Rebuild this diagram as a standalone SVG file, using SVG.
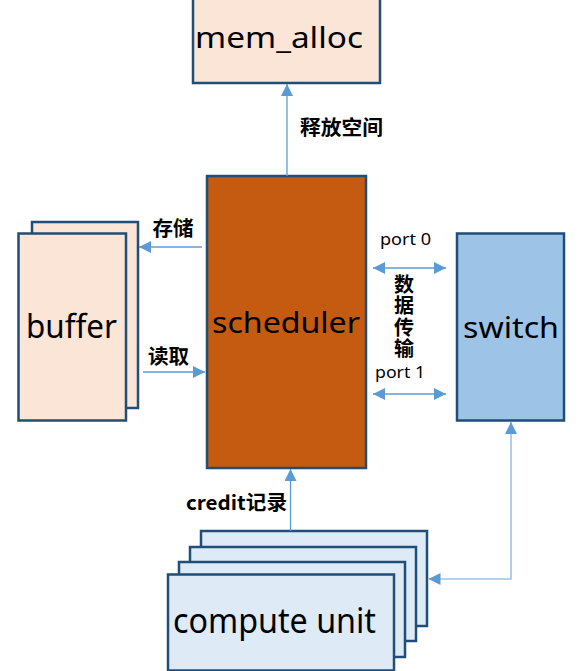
<svg xmlns="http://www.w3.org/2000/svg" width="585" height="671" viewBox="0 0 585 671">
<style>
.box{stroke:#1F4E79;stroke-width:2.5}
.peach{fill:#FBE5D6}
.light{fill:#DEEBF7}
.big{font-family:"Noto Sans","Open Sans",sans-serif;fill:#000}
.lbl{font-family:"Noto Sans CJK SC","Noto Sans",sans-serif;font-weight:bold;font-size:20px;fill:#000}
.port{font-family:"Noto Sans","Open Sans",sans-serif;font-size:17px;fill:#000}
.conn{stroke:#5B9BD5;stroke-width:1.3;fill:none}
</style>
<defs>
<marker id="ah" markerUnits="userSpaceOnUse" markerWidth="12" markerHeight="12" viewBox="0 0 12 12" refX="12" refY="6" orient="auto-start-reverse">
<path d="M0,0 L12,6 L0,12 z" fill="#5B9BD5"/>
</marker>
</defs>
<g id="mem_alloc">
<rect class="box peach" x="193" y="-2" width="187" height="85"/>
<text class="big" x="195" y="48" font-size="29" textLength="168" lengthAdjust="spacingAndGlyphs">mem_alloc</text>
</g>
<g id="buffer">
<rect class="box peach" x="32" y="222" width="106" height="186"/>
<rect class="box peach" x="18.5" y="233.5" width="107.5" height="187"/>
<text class="big" x="26" y="338" font-size="33" textLength="91" lengthAdjust="spacingAndGlyphs">buffer</text>
</g>
<g id="scheduler">
<rect class="box" fill="#C55A11" x="207" y="176" width="159" height="292"/>
<text class="big" x="212" y="333" font-size="29" textLength="148" lengthAdjust="spacingAndGlyphs">scheduler</text>
</g>
<g id="switch">
<rect class="box" fill="#9DC3E6" x="457" y="233.5" width="107" height="187"/>
<text class="big" x="463" y="338" font-size="29" textLength="96" lengthAdjust="spacingAndGlyphs">switch</text>
</g>
<g id="compute_unit">
<rect class="box light" x="201" y="531" width="226" height="95"/>
<rect class="box light" x="190" y="547" width="226" height="94"/>
<rect class="box light" x="179" y="562" width="226" height="95"/>
<rect class="box light" x="168" y="574.5" width="226" height="96"/>
<text class="big" x="173" y="633" font-size="35" textLength="203" lengthAdjust="spacingAndGlyphs">compute unit</text>
</g>
<g id="connectors">
<line class="conn" x1="287" y1="176" x2="287" y2="84" marker-end="url(#ah)"/>
<line class="conn" x1="202" y1="247" x2="139" y2="247" marker-end="url(#ah)"/>
<line class="conn" x1="143" y1="372" x2="205" y2="372" marker-end="url(#ah)"/>
<line class="conn" x1="373" y1="268" x2="446" y2="268" marker-start="url(#ah)" marker-end="url(#ah)"/>
<line class="conn" x1="373" y1="394" x2="446" y2="394" marker-start="url(#ah)" marker-end="url(#ah)"/>
<line class="conn" x1="290.5" y1="531" x2="290.5" y2="469" marker-end="url(#ah)"/>
<polyline class="conn" style="stroke:#9DC3E6;stroke-width:1.6" points="511,422 511,579 428.5,579" marker-start="url(#ah)" marker-end="url(#ah)"/>
</g>
<g id="labels">
<text class="lbl" x="300" y="135" textLength="83" lengthAdjust="spacingAndGlyphs">释放空间</text>
<text class="lbl" x="152.5" y="236" textLength="41" lengthAdjust="spacingAndGlyphs">存储</text>
<text class="lbl" x="148" y="364" textLength="41" lengthAdjust="spacingAndGlyphs">读取</text>
<text class="lbl" x="186" y="510" textLength="101" lengthAdjust="spacingAndGlyphs">credit记录</text>
<text class="lbl" writing-mode="vertical-rl" x="404" y="274" letter-spacing="1.5">数据传输</text>
<text class="port" x="380" y="245" textLength="51" lengthAdjust="spacingAndGlyphs">port 0</text>
<text class="port" x="375" y="378" textLength="50" lengthAdjust="spacingAndGlyphs">port 1</text>
</g>
</svg>
